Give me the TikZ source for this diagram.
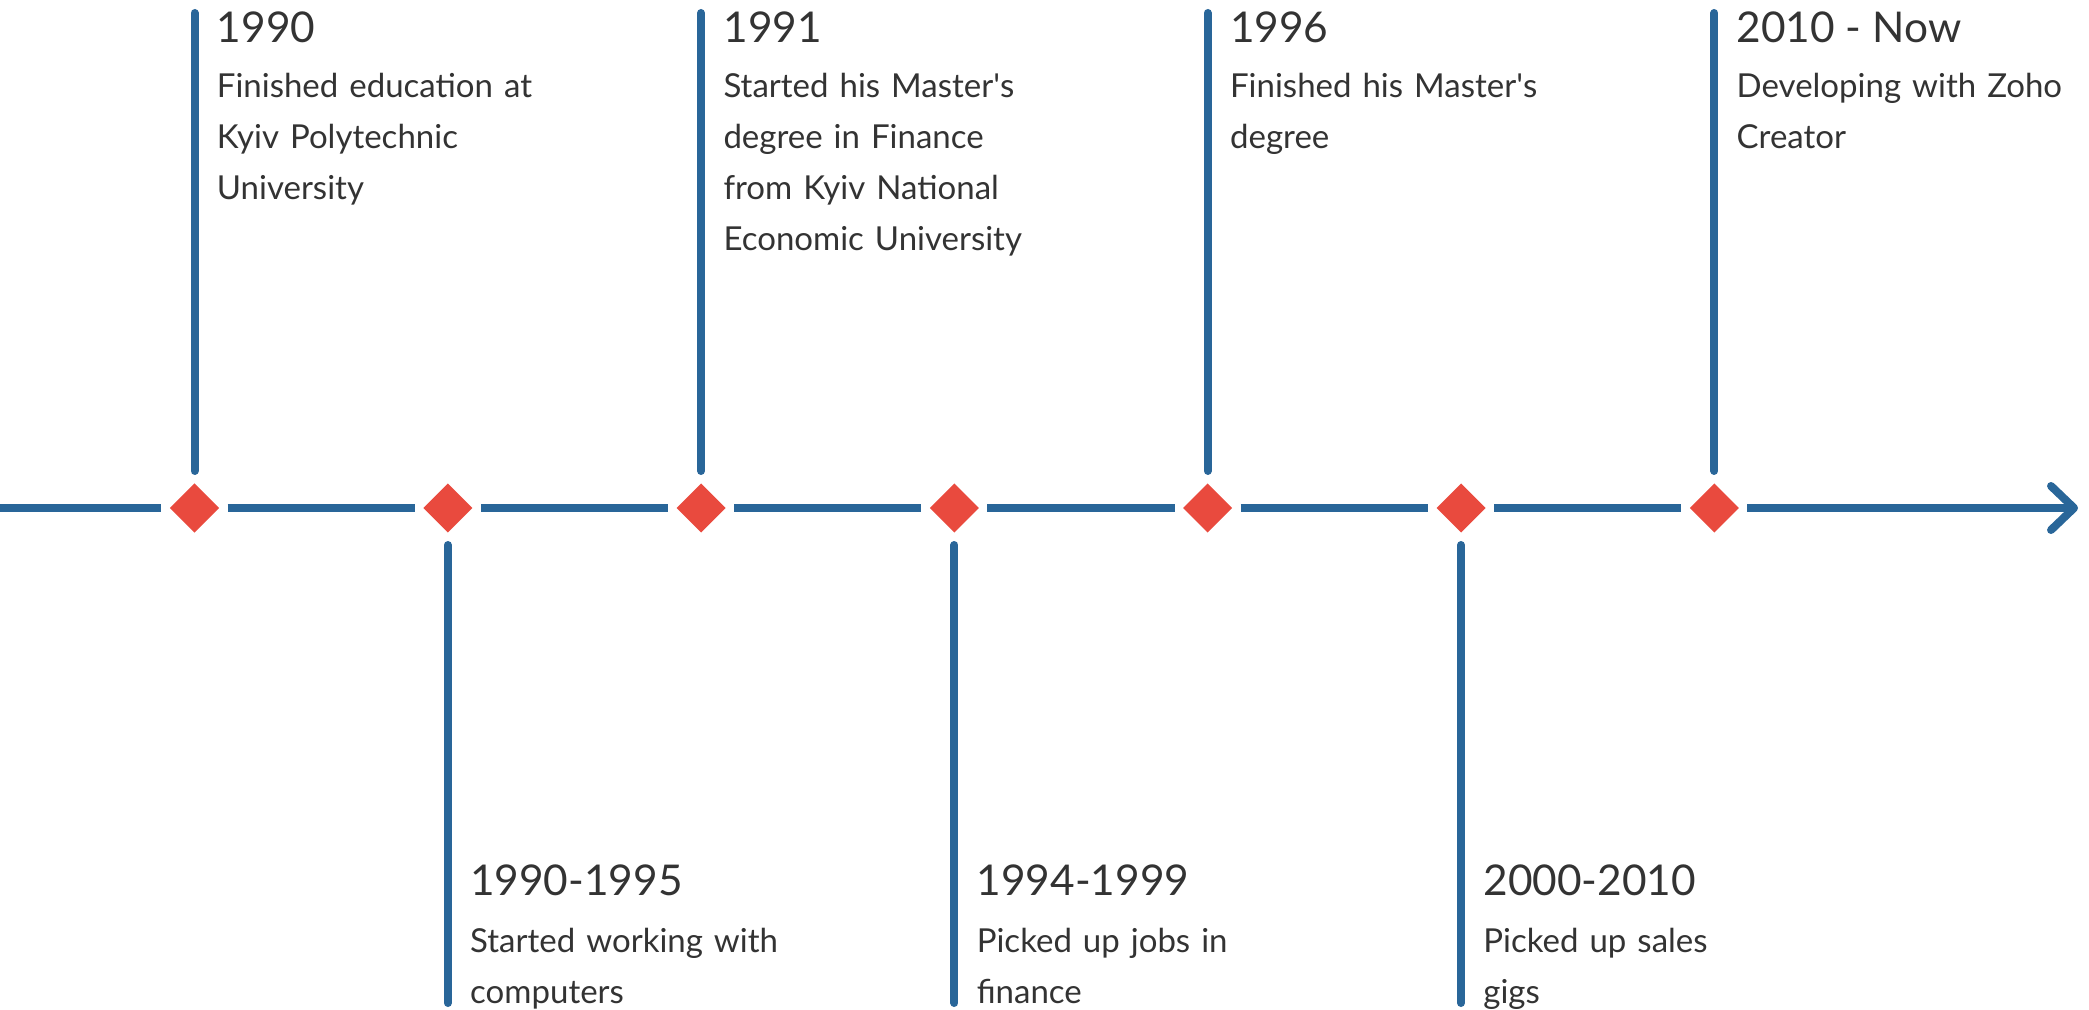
\documentclass[tikz,border=0pt]{standalone}
\usepackage{fontspec}
\setmainfont{Lato}
\usetikzlibrary{shapes.geometric}
\definecolor{lineblue}{RGB}{41,102,153}
\definecolor{markred}{RGB}{233,74,62}
\definecolor{textgrey}{RGB}{51,51,51}
\tikzset{
	axisline/.style = {lineblue, line width=4pt},
	stem/.style = {lineblue, line width=4pt, line cap=round, shorten >=2pt},
	marker/.style = {diamond, fill=markred, minimum size=27pt, inner sep=0pt, outer sep=3pt},
	yeartext/.style = {anchor=base west, inner sep=0pt, textgrey, font=\fontsize{21.2}{25}\selectfont},
	eventtext/.style = {anchor=base west, inner sep=0pt, textgrey, text width=190pt, align=left, font=\fontsize{16.5}{25.5}\selectfont}
}
\begin{document}
\begin{tikzpicture}[x=0.5pt, y=-0.5pt]
	\useasboundingbox (0,0) rectangle (2089,1010);

	% markers on the axis
	\node [marker] (m1) at (194.5,508) {};
	\node [marker] (m2) at (447.8,508) {};
	\node [marker] (m3) at (701.1,508) {};
	\node [marker] (m4) at (954.4,508) {};
	\node [marker] (m5) at (1207.7,508) {};
	\node [marker] (m6) at (1461,508) {};
	\node [marker] (m7) at (1714.3,508) {};

	% axis and arrow
	\coordinate (start) at (0,508);
	\coordinate (tip) at (2074,508);
	\draw [axisline] (start) -- (m1);
	\draw [axisline] (m1) -- (m2);
	\draw [axisline] (m2) -- (m3);
	\draw [axisline] (m3) -- (m4);
	\draw [axisline] (m4) -- (m5);
	\draw [axisline] (m5) -- (m6);
	\draw [axisline] (m6) -- (m7);
	\draw [axisline] (m7) -- (tip);
	\draw [axisline, line cap=round] (tip) -- ++(-23,-22) (tip) -- ++(-23,22);

	% stems
	\coordinate (t1) at (194.5,13);
	\coordinate (b2) at (447.8,1003);
	\coordinate (t3) at (701.1,13);
	\coordinate (b4) at (954.4,1003);
	\coordinate (t5) at (1207.7,13);
	\coordinate (b6) at (1461,1003);
	\coordinate (t7) at (1714.3,13);
	\draw [stem] (t1) -- (m1);
	\draw [stem] (b2) -- (m2);
	\draw [stem] (t3) -- (m3);
	\draw [stem] (b4) -- (m4);
	\draw [stem] (t5) -- (m5);
	\draw [stem] (b6) -- (m6);
	\draw [stem] (t7) -- (m7);

	% events above
	\node [yeartext] (y1) at (216.5,43) {1990};
	\node [eventtext] (e1) at (216.5,98) {Finished education at\\Kyiv Polytechnic\\University};
	\node [yeartext] (y3) at (723.1,43) {1991};
	\node [eventtext] (e3) at (723.1,98) {Started his Master\textquotesingle s\\degree in Finance\\from Kyiv National\\Economic University};
	\node [yeartext] (y5) at (1229.7,43) {1996};
	\node [eventtext] (e5) at (1229.7,98) {Finished his Master\textquotesingle s\\degree};
	\node [yeartext] (y7) at (1736.3,43) {2010 - Now};
	\node [eventtext] (e7) at (1736.3,98) {Developing with Zoho\\Creator};

	% events below
	\node [yeartext] (y2) at (469.8,895) {1990-1995};
	\node [eventtext] (e2) at (469.8,952) {Started working with\\computers};
	\node [yeartext] (y4) at (976.4,895) {1994-1999};
	\node [eventtext] (e4) at (976.4,952) {Picked up jobs in\\finance};
	\node [yeartext] (y6) at (1483,895) {2000-2010};
	\node [eventtext] (e6) at (1483,952) {Picked up sales\\gigs};
\end{tikzpicture}
\end{document}
